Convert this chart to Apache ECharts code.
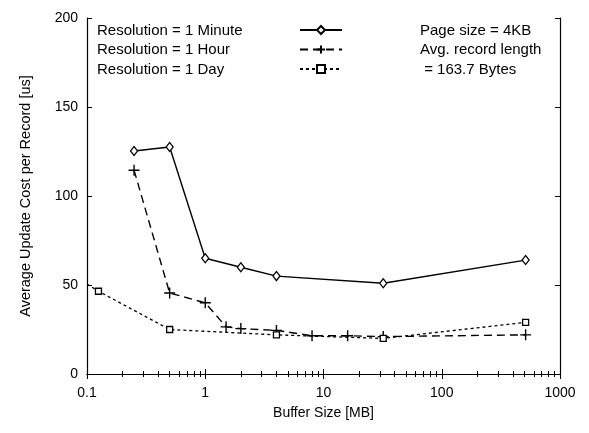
<!DOCTYPE html>
<html>
<head>
<meta charset="utf-8">
<script src="https://cdn.jsdelivr.net/npm/echarts@6/dist/echarts.min.js"></script>
<style>
  html, body { margin: 0; padding: 0; background: #fff; }
  #chart { width: 589px; height: 433px; }
</style>
</head>
<body>
<div id="chart"></div>
<script>
// values (x = buffer size in MB, y = cost in us)
const minuteX = [0.25, 0.5, 1, 2, 4, 32, 512];
const minuteY = [125.3, 127.5, 65, 60, 55, 51, 64];
const hourX = [0.25, 0.5, 1, 1.5, 2, 4, 8, 16, 32, 512];
const hourY = [114.5, 45.5, 40, 26.5, 25.5, 24.5, 21.5, 21.5, 21, 22];
const dayX = [0.1, 0.125, 0.5, 4, 32, 512];
const dayY = [50.5, 46.5, 25, 22, 20, 29];
const seriesNames = ['Resolution = 1 Minute', 'Resolution = 1 Hour', 'Resolution = 1 Day'];
const noteLines = ['Page size = 4KB', 'Avg. record length', ' = 163.7 Bytes'];

const FONT = '"Liberation Sans", Arial, sans-serif';
const PLUS = 'path://M0,5L10,5M5,0L5,10';

function pairs(xs, ys) {
  return xs.map((x, i) => [x, ys[i]]);
}

const chart = echarts.init(document.getElementById('chart'));

const xBase = {
  type: 'log',
  logBase: 10,
  min: 0.1,
  max: 1000,
  axisLine: { show: true, lineStyle: { color: '#000', width: 1.2 } },
  axisTick: { show: true, inside: true, length: 5, lineStyle: { color: '#000' } },
  minorTick: { show: true, splitNumber: 9, length: 3, lineStyle: { color: '#000' } },
  splitLine: { show: false }
};
const yBase = {
  type: 'value',
  min: 0,
  max: 200,
  interval: 50,
  axisLine: { show: true, lineStyle: { color: '#000', width: 1.2 } },
  axisTick: { show: true, inside: true, length: 5, lineStyle: { color: '#000' } },
  splitLine: { show: false }
};

// legend labels sit at the left, their line samples further right
const labelTexts = seriesNames.map((t, i) => ({
  type: 'text',
  left: 97,
  top: 23 + i * 19.5,
  style: { text: t, fontFamily: FONT, fontSize: 15, fill: '#000' }
}));
const noteTexts = noteLines.map((t, i) => ({
  type: 'text',
  left: 420,
  top: 23 + i * 19.5,
  style: { text: t, fontFamily: FONT, fontSize: 15, fill: '#000' }
}));

chart.setOption({
  animation: false,
  backgroundColor: '#fff',
  textStyle: { fontFamily: FONT },
  grid: { left: 87, right: 29, top: 18, bottom: 59 },
  legend: {
    orient: 'vertical',
    left: 299,
    top: 25,
    itemWidth: 42,
    itemHeight: 10,
    itemGap: 9.5,
    padding: 0,
    selectedMode: false,
    data: seriesNames,
    formatter: () => '',
    textStyle: { fontSize: 10, padding: 0 }
  },
  xAxis: [
    Object.assign({}, xBase, {
      position: 'bottom',
      name: 'Buffer Size [MB]',
      nameLocation: 'middle',
      nameGap: 32,
      nameTextStyle: { fontFamily: FONT, fontSize: 14, color: '#000' },
      axisLabel: { color: '#000', fontSize: 14, margin: 12, fontFamily: FONT,
        formatter: v => String(v) }
    }),
    Object.assign({}, xBase, { position: 'top', axisLabel: { show: false } })
  ],
  yAxis: [
    Object.assign({}, yBase, {
      position: 'left',
      name: 'Average Update Cost per Record [us]',
      nameLocation: 'middle',
      nameGap: 54,
      nameTextStyle: { fontFamily: FONT, fontSize: 14.5, color: '#000' },
      axisLabel: { color: '#000', fontSize: 14, margin: 9, fontFamily: FONT }
    }),
    Object.assign({}, yBase, { position: 'right', axisLabel: { show: false } })
  ],
  graphic: labelTexts.concat(noteTexts),
  series: [
    {
      name: seriesNames[0],
      type: 'line',
      data: pairs(minuteX, minuteY),
      symbol: 'diamond',
      symbolSize: [7, 9],
      itemStyle: { color: '#fff', borderColor: '#000', borderWidth: 1.3 },
      lineStyle: { color: '#000', width: 1.4, type: 'solid' }
    },
    {
      name: seriesNames[1],
      type: 'line',
      data: pairs(hourX, hourY),
      symbol: PLUS,
      symbolSize: 11,
      itemStyle: { color: '#000', borderColor: '#000', borderWidth: 1.4 },
      lineStyle: { color: '#000', width: 1.4, type: [8, 5] }
    },
    {
      name: seriesNames[2],
      type: 'line',
      data: pairs(dayX, dayY).map((p, i) => i === 0 ? { value: p, symbol: 'none' } : p),
      symbol: 'rect',
      symbolSize: 6,
      itemStyle: { color: '#fff', borderColor: '#000', borderWidth: 1.3 },
      lineStyle: { color: '#000', width: 1.3, type: [3, 3] }
    }
  ]
});
</script>
</body>
</html>
